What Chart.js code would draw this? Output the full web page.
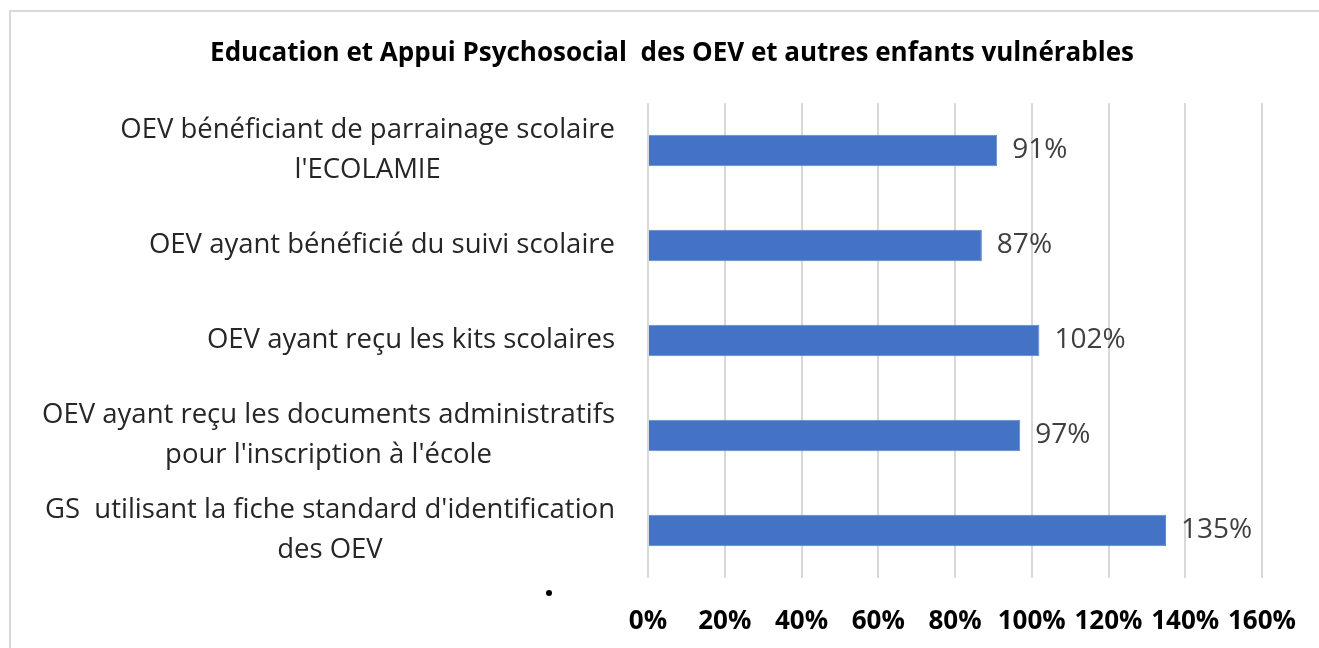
<!DOCTYPE html>
<html>
<head>
<meta charset="utf-8">
<script src="https://cdn.jsdelivr.net/npm/chart.js@4.4.0/dist/chart.umd.min.js"></script>
<style>
    body { margin: 0; background: #fff; overflow: hidden; }
    #frame { position: absolute; left: 9px; top: 10px; width: 1400px; height: 700px; border: 2px solid #d9d9d9; }
    #wrap { position: absolute; left: 0; top: 0; width: 1319px; height: 648px; overflow: hidden; }
    #dot { position: absolute; left: 546px; top: 590px; width: 6px; height: 6px; border-radius: 50%; background: #000; }
</style>
</head>
<body>
<div id="frame"></div>
<div id="wrap"><canvas id="myChart" width="1344" height="648"></canvas></div>
<div id="dot"></div>
<script>
const titleText = 'Education et Appui Psychosocial  des OEV et autres enfants vulnérables';
//Each category is a list of the lines shown on the left
const categories = [
    ['OEV bénéficiant de parrainage scolaire', "l'ECOLAMIE"],
    ['OEV ayant bénéficié du suivi scolaire'],
    ['OEV ayant reçu les kits scolaires'],
    ['OEV ayant reçu les documents administratifs', "pour l'inscription à l'école"],
    ["GS  utilisant la fiche standard d'identification", 'des OEV']
];
const values = [91, 87, 102, 97, 135];
const xMin = 0, xMax = 160, xStep = 20;

Chart.defaults.font.family = '"Open Sans", sans-serif';

//Draws the category labels: block right aligned, lines centered in the block
const categoryLabels = {
    id: 'categoryLabels',
    afterDraw(chart) {
        const ctx = chart.ctx;
        const yScale = chart.scales.y;
        const right = chart.chartArea.left - 33;
        const lineH = 40;
        ctx.save();
        ctx.font = '27.5px "Open Sans"';
        ctx.fillStyle = '#262626';
        ctx.textAlign = 'center';
        ctx.textBaseline = 'middle';
        categories.forEach(function(lines, i) {
            const w = Math.max(...lines.map(l => ctx.measureText(l).width));
            const cx = right - w / 2;
            const cy = yScale.getPixelForValue(i);
            lines.forEach(function(line, j) {
                ctx.fillText(line, cx, cy + (j - (lines.length - 1) / 2) * lineH);
            });
        });
        ctx.restore();
    }
};

//Value labels at the end of each bar
const valueLabels = {
    id: 'valueLabels',
    afterDatasetsDraw(chart) {
        const ctx = chart.ctx;
        const meta = chart.getDatasetMeta(0);
        ctx.save();
        ctx.font = '28px "Open Sans"';
        ctx.fillStyle = '#404040';
        ctx.textAlign = 'left';
        ctx.textBaseline = 'middle';
        meta.data.forEach(function(bar, i) {
            ctx.fillText(values[i] + '%', bar.x + 15, bar.y);
        });
        ctx.restore();
    }
};

const ctx = document.getElementById('myChart');
const myChart = new Chart(ctx, {
    type: 'bar',
    data: {
        labels: categories.map(c => c.join(' ')),
        datasets: [{
            data: values,
            backgroundColor: '#4472C4',
            borderColor: '#5b86d0',
            borderWidth: 1,
            barPercentage: 0.33,
            categoryPercentage: 1
        }]
    },
    options: {
        indexAxis: 'y',
        responsive: false,
        animation: false,
        layout: { padding: { left: 0, right: 0, top: 0, bottom: 11 } },
        plugins: {
            legend: { display: false },
            tooltip: { enabled: false },
            title: {
                display: true,
                text: titleText,
                color: '#000',
                font: { size: 26, weight: 'bold' },
                padding: { top: 38.4, bottom: 33.4 }
            }
        },
        scales: {
            x: {
                min: xMin,
                max: xMax,
                border: { display: false },
                grid: { color: '#d9d9d9', lineWidth: 2, drawTicks: false },
                ticks: {
                    stepSize: xStep,
                    autoSkip: false,
                    maxRotation: 0,
                    padding: 28,
                    color: '#000',
                    font: { size: 26, weight: 'bold' },
                    callback: v => v + '%'
                },
                afterFit: function(scale) { scale.height = 59; }
            },
            y: {
                border: { display: false },
                grid: { display: false },
                ticks: { display: false },
                afterFit: function(scale) { scale.width = 648; }
            },
            //empty right axis, only reserves the space right of the plot
            y2: {
                position: 'right',
                border: { display: false },
                grid: { display: false },
                ticks: { display: false },
                afterFit: function(scale) { scale.width = 82; }
            }
        }
    },
    plugins: [categoryLabels, valueLabels]
});
</script>
</body>
</html>
